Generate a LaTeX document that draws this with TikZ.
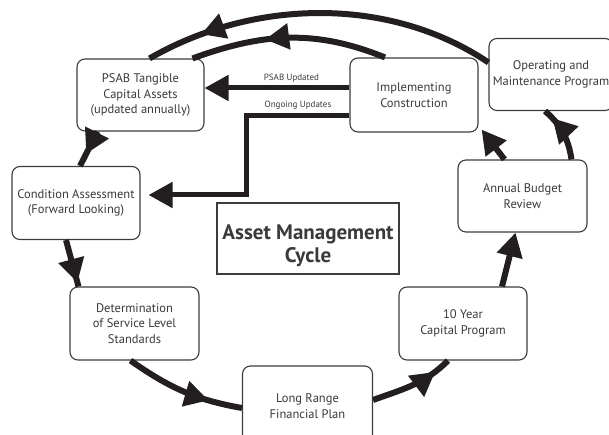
\documentclass[tikz,border=0pt]{standalone}
\usepackage{fontspec}
\setmainfont{PT Sans}
\usepackage{tikz}
\tikzset{>=latex}
\usetikzlibrary{calc}
\usetikzlibrary{arrows.meta}
\usetikzlibrary{decorations.markings}
\definecolor{ink}{HTML}{231F20}
\definecolor{boxline}{HTML}{3C3C3C}
\definecolor{boxtext}{HTML}{3A3A3A}
\tikzset{
  bighead/.tip={Triangle[length=24pt,width=25pt]},
  stage/.style={draw=boxline, line width=1.1pt, rounded corners=8pt, fill=white,
    text=boxtext, align=center, minimum width=128pt, minimum height=73pt,
    font=\fontsize{12.5}{15.5}\selectfont},
  flow/.style={draw=ink, line width=6pt},
  midhead/.style={postaction={decorate}, decoration={markings,
    mark=at position #1 with {\arrow{bighead}}}},
  updlabel/.style={text=boxtext, font=\fontsize{9}{10}\selectfont, inner sep=1pt},
}

\begin{document}
\begin{tikzpicture}[x=1pt, y=1pt]
  \useasboundingbox (0,0) rectangle (609,435);
  \clip (0,0) rectangle (609,435);

  \node[stage, minimum width=127pt, minimum height=72pt] (psab) at (140.5,340) {PSAB Tangible\\Capital Assets\\(updated annually)};
  \node[stage, minimum height=74pt] (impl) at (414,340) {Implementing\\Construction};
  \node[stage, minimum width=124pt, minimum height=72pt] (om) at (551,360.5) {Operating and\\Maintenance Program};
  \node[stage] (cond) at (76,232) {Condition Assessment\\(Forward Looking)};
  \node[stage, minimum width=129pt] (det) at (134.5,111.5) {Determination\\of Service Level\\Standards};
  \node[stage, minimum width=130pt, minimum height=80pt] (lrfp) at (307.5,29) {Long Range\\Financial Plan};
  \node[stage] (ten) at (463,111.5) {10 Year\\Capital Program};
  \node[stage, minimum width=129pt, minimum height=72pt] (abr) at (522.5,239) {Annual Budget\\Review};

  \node[draw=boxline, line width=1.1pt, minimum width=182pt, minimum height=71pt] (titlebox) at (308,196.5) {};
  \node[text=boxtext, align=center, font=\bfseries\fontsize{21}{23}\selectfont] (title) at (308,189) {Asset Management\\Cycle};

  \draw[flow, midhead=0.65] ([xshift=-43]psab.south) -- ([xshift=4]cond.north);
  \draw[flow, midhead=0.92] ([xshift=-10]cond.south) -- ([xshift=-56]det.north);
  \draw[flow, midhead=0.72] ([xshift=-4]det.south) to[out=-35, in=170] ([yshift=-2]lrfp.west);
  \draw[flow, midhead=0.8] ([yshift=6]lrfp.east) to[out=20, in=225] ([xshift=-15]ten.south);
  \draw[flow, -bighead] ([xshift=39]ten.north) -- ([xshift=-7]abr.south);
  \draw[flow, -bighead] ([xshift=-18]abr.north) -- ([xshift=3,yshift=3]impl.south east);
  \draw[flow, midhead=0.82] ([xshift=49]abr.north) to[bend right=20] ([xshift=-6]om.south);
  \draw[flow, midhead=0.84] ([yshift=12]om.west) to[out=146, in=30, looseness=0.9] ([xshift=9]psab.north);
  \draw[flow, midhead=0.62] ([xshift=-29]impl.north) to[out=158, in=20] ([xshift=52]psab.north);

  \draw[flow, line width=5pt, -bighead] ([yshift=7]impl.west) -- node[updlabel, above=2pt, pos=0.4] (psabupd) {PSAB Updated} ([yshift=7]psab.east);
  \draw[flow, line width=5pt, -bighead, shorten >=8pt] ([yshift=-21]impl.west) -- node[updlabel, above=3pt, pos=0.5] (ongoing) {Ongoing Updates} ++(-103,0) |- ([yshift=8]cond.east);
\end{tikzpicture}
\end{document}
